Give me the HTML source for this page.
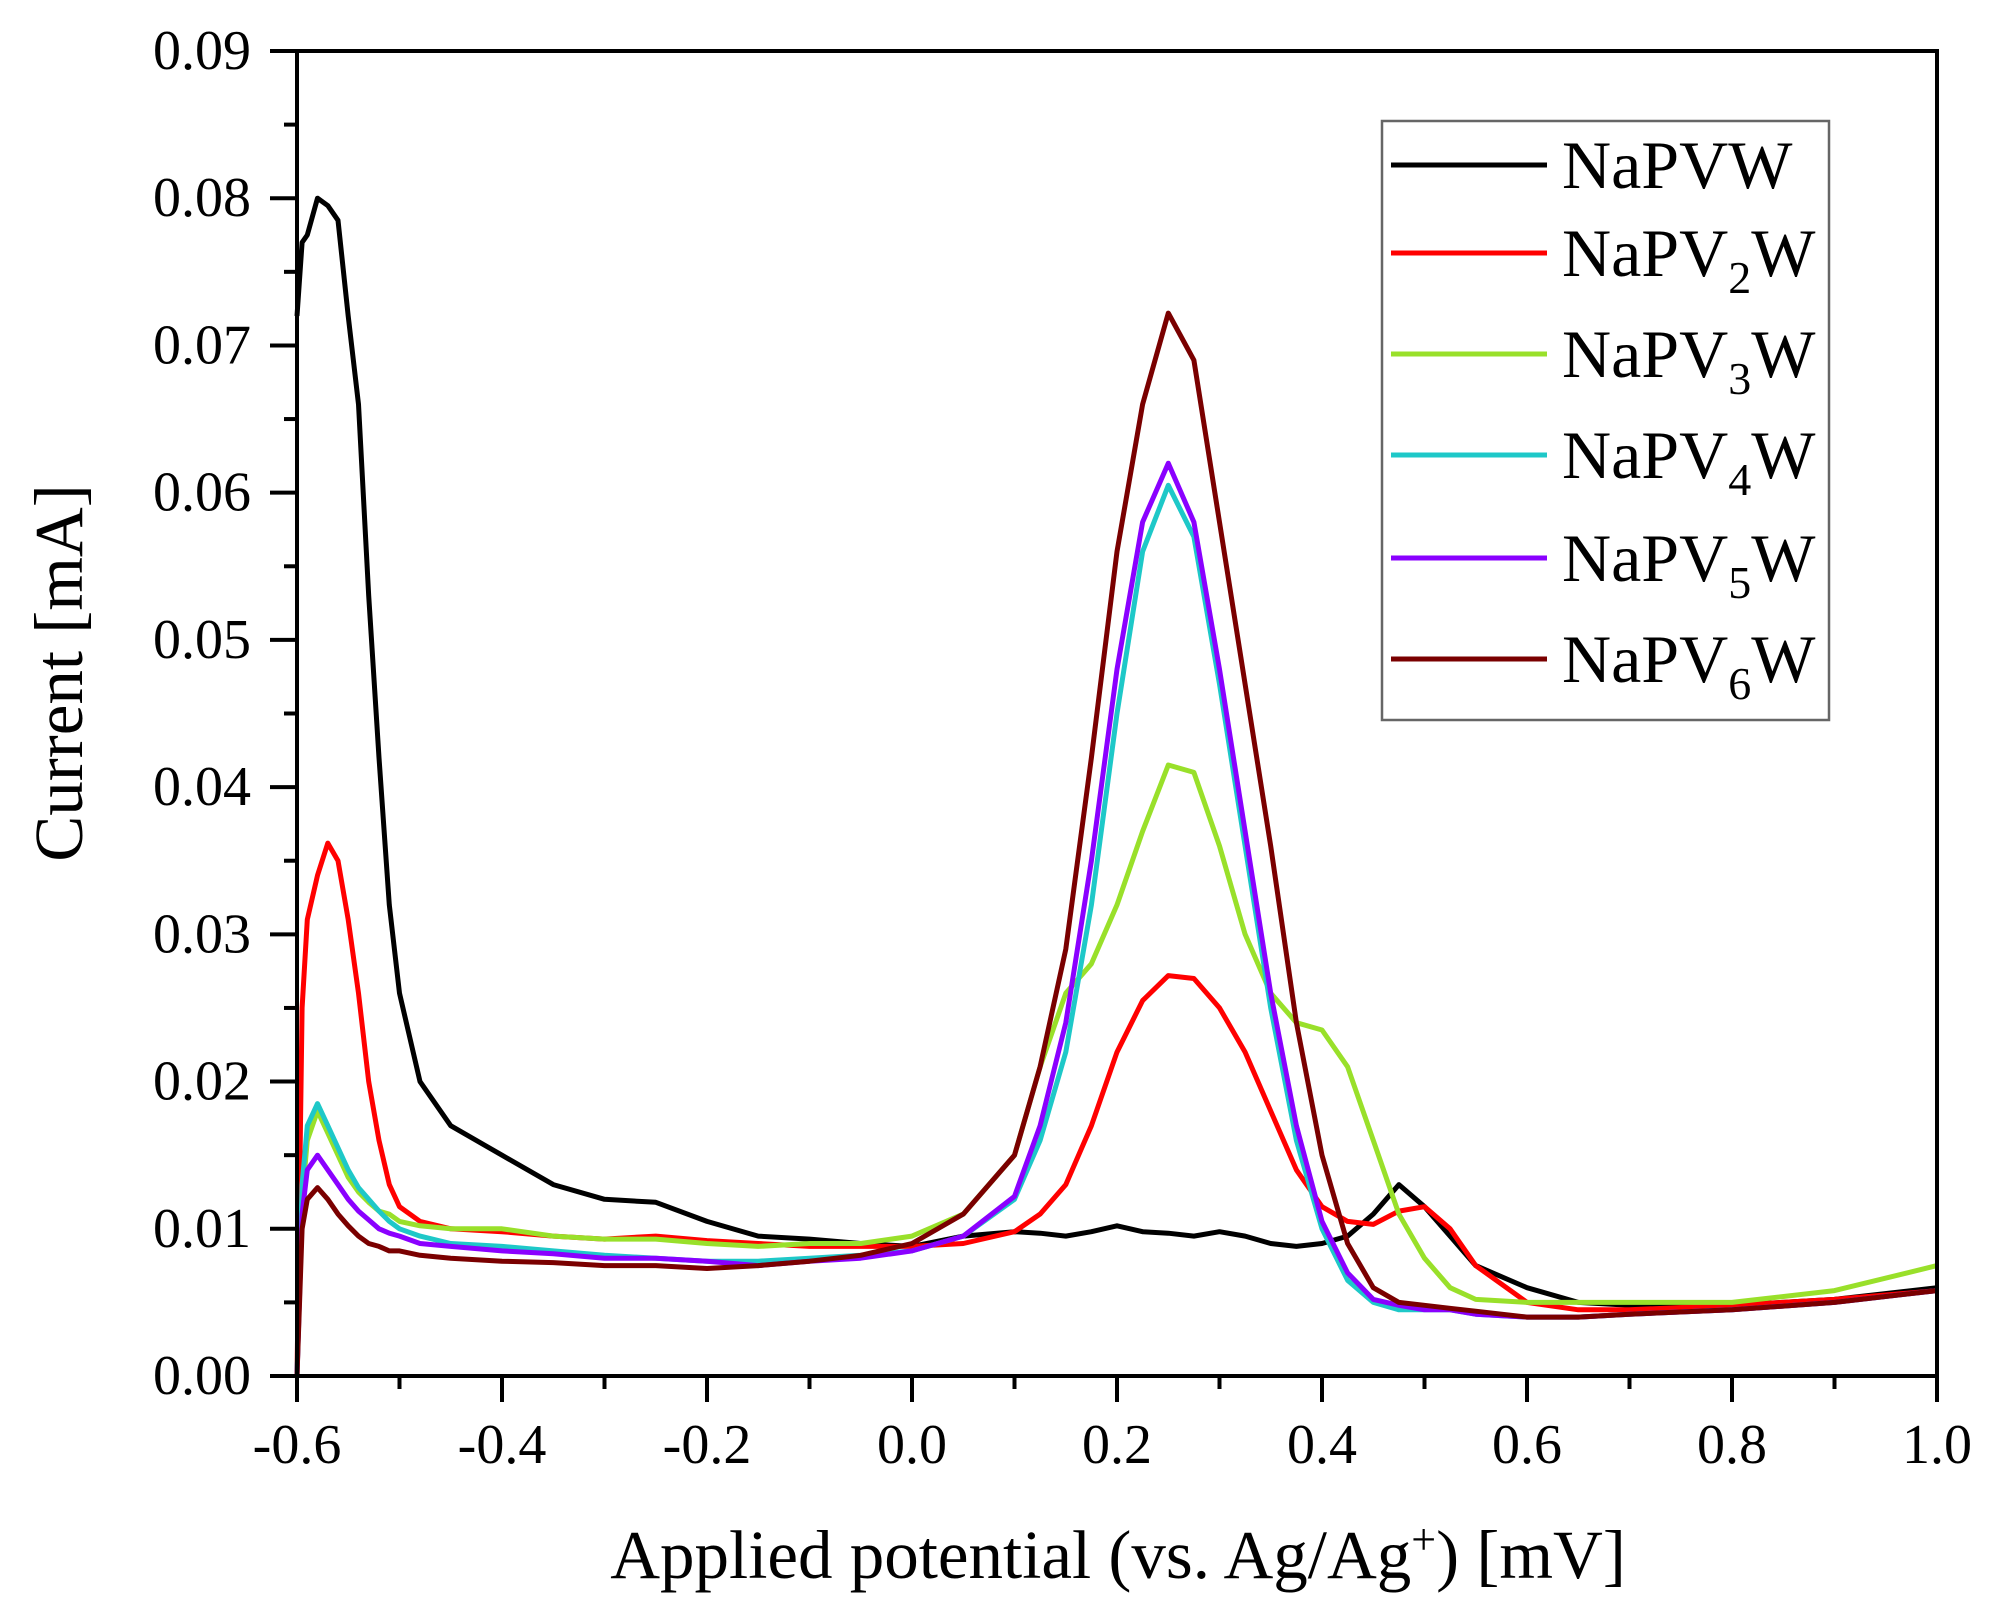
<!DOCTYPE html>
<html><head><meta charset="utf-8"><style>
html,body{margin:0;padding:0;background:#fff;}
svg{display:block;font-family:"Liberation Serif","DejaVu Serif",serif;}
</style></head><body>
<svg id="chart" width="1992" height="1615" viewBox="0 0 1992 1615">
<g id="series"></g>
<g id="axes"></g>
<g id="legend"></g>
<text x="0" y="0" transform="translate(82,673) rotate(-90)" text-anchor="middle" font-size="69">Current [mA]</text>
<text x="1118" y="1578" text-anchor="middle" font-size="69">Applied potential (vs. Ag/Ag<tspan baseline-shift="super" font-size="44">+</tspan>) [mV]</text>
</svg>
<script>
const potentials=[-0.6,-0.595,-0.59,-0.58,-0.57,-0.56,-0.55,-0.54,-0.53,-0.52,-0.51,-0.5,-0.48,-0.45,-0.4,-0.35,-0.3,-0.25,-0.2,-0.15,-0.1,-0.05,0,0.05,0.1,0.125,0.15,0.175,0.2,0.225,0.25,0.275,0.3,0.325,0.35,0.375,0.4,0.425,0.45,0.475,0.5,0.525,0.55,0.6,0.65,0.7,0.8,0.9,1.0];
const seriesNames=["NaPVW","NaPV2W","NaPV3W","NaPV4W","NaPV5W","NaPV6W"];
const seriesColors=["#000000","#ff0000","#99e02a","#1ec8c8","#8a00ff","#7a0000"];
const napvw=[0.072,0.077,0.0775,0.080,0.0795,0.0785,0.072,0.066,0.053,0.042,0.032,0.026,0.020,0.017,0.015,0.013,0.012,0.0118,0.0105,0.0095,0.0093,0.009,0.0088,0.0095,0.0098,0.0097,0.0095,0.0098,0.0102,0.0098,0.0097,0.0095,0.0098,0.0095,0.009,0.0088,0.009,0.0095,0.011,0.013,0.0115,0.0095,0.0075,0.006,0.005,0.0048,0.0048,0.0052,0.006];
const napv2w=[0.0,0.025,0.031,0.034,0.0362,0.035,0.031,0.026,0.020,0.016,0.013,0.0115,0.0105,0.010,0.0098,0.0095,0.0093,0.0095,0.0092,0.009,0.0088,0.0088,0.0088,0.009,0.0098,0.011,0.013,0.017,0.022,0.0255,0.0272,0.027,0.025,0.022,0.018,0.014,0.0115,0.0105,0.0103,0.0112,0.0115,0.010,0.0075,0.005,0.0045,0.0045,0.0048,0.0052,0.0058];
const napv3w=[0.0,0.012,0.016,0.018,0.0165,0.015,0.0135,0.0125,0.0118,0.0112,0.011,0.0105,0.0102,0.010,0.010,0.0095,0.0093,0.0093,0.009,0.0088,0.009,0.009,0.0095,0.011,0.015,0.021,0.026,0.028,0.032,0.037,0.0415,0.041,0.036,0.030,0.026,0.024,0.0235,0.021,0.016,0.011,0.008,0.006,0.0052,0.005,0.005,0.005,0.005,0.0058,0.0075];
const napv4w=[0.0,0.013,0.017,0.0185,0.017,0.0155,0.014,0.0128,0.012,0.0112,0.0105,0.010,0.0095,0.009,0.0088,0.0085,0.0082,0.008,0.0078,0.0078,0.008,0.0082,0.0085,0.0095,0.012,0.016,0.022,0.032,0.045,0.056,0.0605,0.057,0.047,0.036,0.025,0.016,0.010,0.0065,0.005,0.0045,0.0045,0.0045,0.0042,0.004,0.004,0.0042,0.0045,0.005,0.0058];
const napv5w=[0.0,0.011,0.014,0.015,0.014,0.013,0.012,0.0112,0.0106,0.010,0.0097,0.0095,0.009,0.0088,0.0085,0.0083,0.008,0.008,0.0078,0.0075,0.0078,0.008,0.0085,0.0095,0.0122,0.017,0.024,0.035,0.048,0.058,0.062,0.058,0.048,0.037,0.026,0.017,0.0105,0.007,0.0052,0.0048,0.0045,0.0045,0.0042,0.004,0.004,0.0042,0.0045,0.005,0.0058];
const napv6w=[0.0,0.010,0.012,0.0128,0.012,0.011,0.0102,0.0095,0.009,0.0088,0.0085,0.0085,0.0082,0.008,0.0078,0.0077,0.0075,0.0075,0.0073,0.0075,0.0078,0.0082,0.009,0.011,0.015,0.021,0.029,0.042,0.056,0.066,0.0722,0.069,0.058,0.047,0.036,0.024,0.015,0.009,0.006,0.005,0.0048,0.0046,0.0044,0.004,0.004,0.0042,0.0045,0.005,0.0058];
const seriesValues=[napvw,napv2w,napv3w,napv4w,napv5w,napv6w];
const yTicks=["0.00","0.01","0.02","0.03","0.04","0.05","0.06","0.07","0.08","0.09"];
const xTicks=["-0.6","-0.4","-0.2","0.0","0.2","0.4","0.6","0.8","1.0"];

const L=297,R=1937,T=51,B=1376;
const xMin=-0.6,xMax=1.0,yMin=0,yMax=0.09;
function sx(v){return L+(v-xMin)/(xMax-xMin)*(R-L);}
function sy(v){return B-(v-yMin)/(yMax-yMin)*(B-T);}
const NS="http://www.w3.org/2000/svg";
function mk(tag,attrs,parent){const e=document.createElementNS(NS,tag);for(const k in attrs)e.setAttribute(k,attrs[k]);parent.appendChild(e);return e;}

const sg=document.getElementById('series');
seriesValues.forEach((vals,i)=>{
  const d=vals.map((v,j)=>(j?'L':'M')+sx(potentials[j]).toFixed(1)+','+sy(v).toFixed(1)).join(' ');
  const p=mk('path',{d:d,fill:'none',stroke:seriesColors[i],'stroke-width':5,'stroke-linejoin':'round'},sg);
  
  
});

const ax=document.getElementById('axes');
const frame=mk('rect',{x:L,y:T,width:R-L,height:B-T,fill:'none',stroke:'#000','stroke-width':4},ax);


yTicks.forEach((t,i)=>{
  const v=parseFloat(t);const y=sy(v);
  const tk=mk('line',{x1:L-27,x2:L,y1:y,y2:y,stroke:'#000','stroke-width':4},ax);
  
  
  if(i<yTicks.length-1){const ym=sy(v+0.005);const mt=mk('line',{x1:L-13,x2:L,y1:ym,y2:ym,stroke:'#000','stroke-width':4},ax);
  
  }
  const tx=mk('text',{x:251,y:y+18,'text-anchor':'end','font-size':56},ax);tx.textContent=t;
  
  
});
xTicks.forEach((t,i)=>{
  const v=parseFloat(t);const x=sx(v);
  const tk=mk('line',{x1:x,x2:x,y1:B,y2:B+26,stroke:'#000','stroke-width':4},ax);
  
  
  if(i<xTicks.length-1){const xm=sx(v+0.1);const mt=mk('line',{x1:xm,x2:xm,y1:B,y2:B+13,stroke:'#000','stroke-width':4},ax);
  
  }
  const tx=mk('text',{x:x,y:1463,'text-anchor':'middle','font-size':56},ax);tx.textContent=t;
  
  
});

const lg=document.getElementById('legend');
const box=mk('rect',{x:1382,y:121,width:447,height:599,fill:'#fff',stroke:'#666','stroke-width':2.5},lg);


const rowsY=[165,253,354,455,558,659];
seriesNames.forEach((n,i)=>{
  const y=rowsY[i];
  const ln=mk('line',{x1:1391,x2:1547,y1:y,y2:y,stroke:seriesColors[i],'stroke-width':5},lg);
  
  
  const tx=mk('text',{x:1562,y:y+23,'font-size':68},lg);
  
  
  if(i===0){tx.textContent=n;}
  else{
    const a=document.createElementNS(NS,'tspan');a.textContent='NaPV';tx.appendChild(a);
    const s=document.createElementNS(NS,'tspan');s.setAttribute('font-size','46');s.setAttribute('dy','17');s.textContent=String(i+1);tx.appendChild(s);
    const w=document.createElementNS(NS,'tspan');w.setAttribute('dy','-17');w.textContent='W';tx.appendChild(w);
  }
});
</script>
</body></html>
